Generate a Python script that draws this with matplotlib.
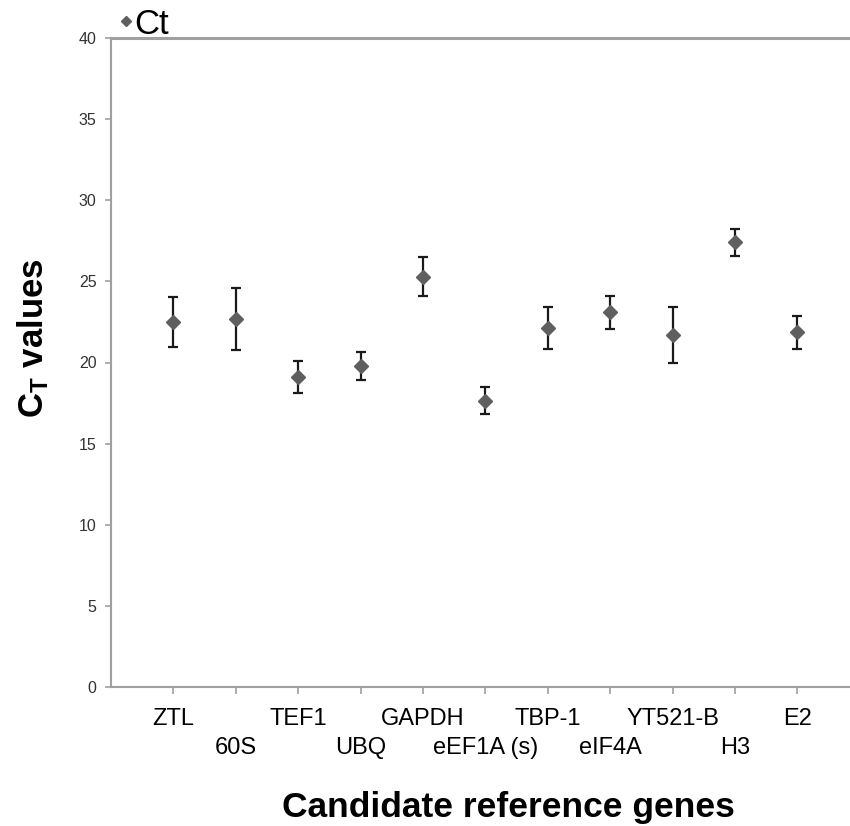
import matplotlib
matplotlib.use("Agg")
import matplotlib.pyplot as plt
from matplotlib.lines import Line2D

genes = ["ZTL", "60S", "TEF1", "UBQ", "GAPDH", "eEF1A (s)", "TBP-1",
         "eIF4A", "YT521-B", "H3", "E2"]
ct_values = [22.5, 22.7, 19.1, 19.8, 25.3, 17.65, 22.15, 23.1, 21.7, 27.4, 21.85]
ct_errors = [1.55, 1.9, 1.0, 0.87, 1.23, 0.84, 1.3, 1.02, 1.7, 0.82, 1.02]
y_ticks = [0, 5, 10, 15, 20, 25, 30, 35, 40]

plt.rcParams["mathtext.fontset"] = "custom"
plt.rcParams["mathtext.bf"] = "Liberation Sans:bold"
plt.rcParams["mathtext.rm"] = "Liberation Sans"

W, H = 850, 826
fig = plt.figure(figsize=(W / 100, H / 100), dpi=100)
left, right_px = 111, 111 + 62.4 * 12
top_px, bot_px = 38, 687
ax = fig.add_axes([left / W, 1 - bot_px / H, (right_px - left) / W, (bot_px - top_px) / H])

x = list(range(1, len(genes) + 1))
ax.errorbar(x, ct_values, yerr=ct_errors, fmt="none", ecolor="#1a1a1a",
            elinewidth=1.6, capsize=3.4, capthick=1.6, zorder=2)
ax.plot(x, ct_values, linestyle="none", marker="D", markersize=7.5,
        color="#5f5f5f", markeredgecolor="#5f5f5f", zorder=3)

ax.set_xlim(0, 12)
ax.set_ylim(0, 40)
ax.set_yticks(y_ticks)
ax.set_yticklabels([str(v) for v in y_ticks], fontsize=11.5,
                   family="Liberation Sans", color="#333333")

# two staggered rows of category labels
ax.set_xticks(x[0::2])
ax.set_xticklabels(genes[0::2], fontsize=17, family="Liberation Sans",
                   color="black")
ax.set_xticks(x[1::2], minor=True)
ax.set_xticklabels(genes[1::2], minor=True, fontsize=17,
                   family="Liberation Sans", color="black")

for s in ["left", "bottom", "top"]:
    ax.spines[s].set_color("#a0a0a0")
    ax.spines[s].set_linewidth(1.5)
ax.spines["top"].set_linewidth(2.2)
ax.spines["right"].set_visible(False)
ax.tick_params(axis="y", direction="out", length=4.5, width=1.2,
               color="#a0a0a0", pad=6)
ax.tick_params(axis="x", which="major", direction="out", length=5, width=1.2,
               color="#a0a0a0", pad=10)
ax.tick_params(axis="x", which="minor", direction="out", length=5, width=1.2,
               color="#a0a0a0", pad=31)

fig.text(33 / W, 1 - 338 / H, r"$\mathbf{C_T}$ values", rotation=90,
         ha="center", va="center", fontsize=25, fontweight="bold",
         family="Liberation Sans")
fig.text(508 / W, 1 - 817 / H, "Candidate reference genes", ha="center",
         va="baseline", fontsize=25.5, fontweight="bold", family="Liberation Sans")

handle = Line2D([], [], linestyle="none", marker="D", markersize=5.5,
                color="#5f5f5f")
fig.legend([handle], ["Ct"], loc="center left",
           bbox_to_anchor=(119 / W, 1 - 24 / H), frameon=False,
           prop={"family": "Liberation Sans", "size": 25},
           handlelength=0.4, handletextpad=0.05, borderpad=0, borderaxespad=0)

fig.savefig("out.png", dpi=100)
